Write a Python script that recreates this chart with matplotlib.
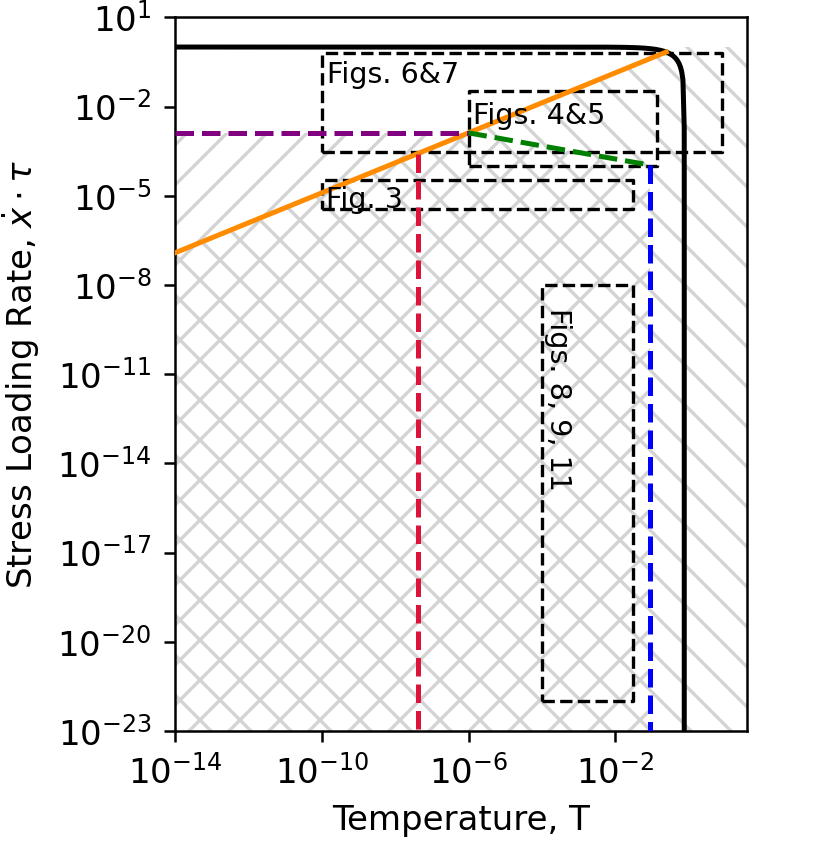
import numpy as np
import matplotlib
matplotlib.use("Agg")
import matplotlib.pyplot as plt
from matplotlib.ticker import NullLocator

# ---------------- data ----------------
x_lim = (1e-14, 39.0)
y_lim = (1e-23, 10.0)
x_ticks = [1e-14, 1e-10, 1e-6, 1e-2]
y_ticks = [1e1, 1e-2, 1e-5, 1e-8, 1e-11, 1e-14, 1e-17, 1e-20, 1e-23]

Tc = 0.76          # black boundary: rate -> 0 at Tc
rate_max = 1.0     # black boundary plateau

orange_T = [1e-14, 0.245]
orange_rate = [1.2e-7, 0.68]

purple_T = [1e-14, 1e-6]
purple_rate = [1.3e-3, 1.3e-3]

green_T = [1e-6, 0.088]
green_rate = [1.3e-3, 1.07e-4]

red_T = 4.2e-8
blue_T = 0.088

box_labels = ["Figs. 6&7", "Figs. 4&5", "Fig. 3", "Figs. 8, 9, 11"]
box_T0 = [1e-10, 1e-6, 1e-10, 1e-4]
box_T1 = [8.0, 0.134, 0.03, 0.03]
box_r0 = [3e-4, 1e-4, 3.5e-6, 1e-22]
box_r1 = [0.62, 3.2e-2, 3.4e-5, 1e-8]
label_offsets = [(1.6, -2.4), (1.3, -3.1), (1.2, -1.7), (0.7, -7.0)]
label_rot = [0, 0, 0, -90]

# ---------------- figure ----------------
DPI = 240
FS = 10.2
plt.rcParams["hatch.color"] = "lightgray"
plt.rcParams["hatch.linewidth"] = 1.0
plt.rcParams["font.size"] = FS

fig = plt.figure(figsize=(830 / DPI, 861 / DPI), dpi=DPI)
ax = fig.add_axes([175 / 830, 1 - 731 / 861, (747 - 175) / 830, (731 - 17.3) / 861])
ax.set_xscale("log")
ax.set_yscale("log")
ax.set_xlim(*x_lim)
ax.set_ylim(*y_lim)

# hatched region under the orange line (and above-Tc strip)
poly1_x = [x_lim[0], x_lim[0], orange_T[1], orange_T[1], x_lim[1], x_lim[1]]
poly1_y = [y_lim[0], orange_rate[0], orange_rate[1], rate_max, rate_max, y_lim[0]]
ax.fill(poly1_x, poly1_y, facecolor="none", edgecolor="lightgray", linewidth=0,
        hatch="\\\\", zorder=1)

# hatched region under the purple/green boundary
poly2_x = [x_lim[0], x_lim[0], purple_T[1], green_T[1], green_T[1]]
poly2_y = [y_lim[0], purple_rate[0], purple_rate[1], green_rate[1], y_lim[0]]
ax.fill(poly2_x, poly2_y, facecolor="none", edgecolor="lightgray", linewidth=0,
        hatch="//", zorder=1)

# black boundary curve: rate = rate_max * (1 - T/Tc)
T_flat = np.logspace(np.log10(x_lim[0]), np.log10(Tc) - 1e-3, 400)
s_flat = 1 - T_flat / Tc
s_drop = np.logspace(np.log10(s_flat[-1]), -25, 300)
T_curve = np.concatenate([T_flat, Tc * (1 - s_drop)])
r_curve = rate_max * np.concatenate([s_flat, s_drop])
LW = 1.5
ax.plot(T_curve, r_curve, color="black", lw=LW, zorder=5)

# orange line
ax.plot(orange_T, orange_rate, color="darkorange", lw=LW, zorder=6)
# purple / green dashed
ax.plot(purple_T, purple_rate, color="purple", lw=LW, ls="--", zorder=6)
ax.plot(green_T, green_rate, color="green", lw=LW, ls="--", zorder=6)

# red dashed: from orange line down
lo = np.log10(orange_T); lr = np.log10(orange_rate)
red_top = 10 ** np.interp(np.log10(red_T), lo, lr)
ax.plot([red_T, red_T], [red_top, y_lim[0]], color="crimson", lw=LW, ls="--", zorder=6)
# blue dashed: from green end down
ax.plot([blue_T, blue_T], [green_rate[1], y_lim[0]], color="blue", lw=LW, ls="--", zorder=6)

# figure boxes
for lab, t0, t1, r0, r1, off, rot in zip(box_labels, box_T0, box_T1, box_r0, box_r1,
                                         label_offsets, label_rot):
    ax.plot([t0, t1, t1, t0, t0], [r0, r0, r1, r1, r0], color="black", lw=1.0,
            ls="--", zorder=4)
    ax.annotate(lab, xy=(t0, r1), xytext=off, textcoords="offset points",
                ha="left", va="top", rotation=rot, fontsize=8.6, zorder=7)

ax.set_xticks(x_ticks)
ax.set_yticks(y_ticks)
ax.xaxis.set_minor_locator(NullLocator())
ax.yaxis.set_minor_locator(NullLocator())
ax.tick_params(length=3.4, width=0.75, labelsize=FS, pad=3.6)
for sp in ax.spines.values():
    sp.set_linewidth(0.75)

ax.set_xlabel("Temperature, T", fontsize=FS, labelpad=4.2)
ax.set_ylabel(r"Stress Loading Rate, $\dot{x}\cdot\tau$", fontsize=FS, labelpad=4.6)

fig.savefig("out.png", dpi=DPI)
